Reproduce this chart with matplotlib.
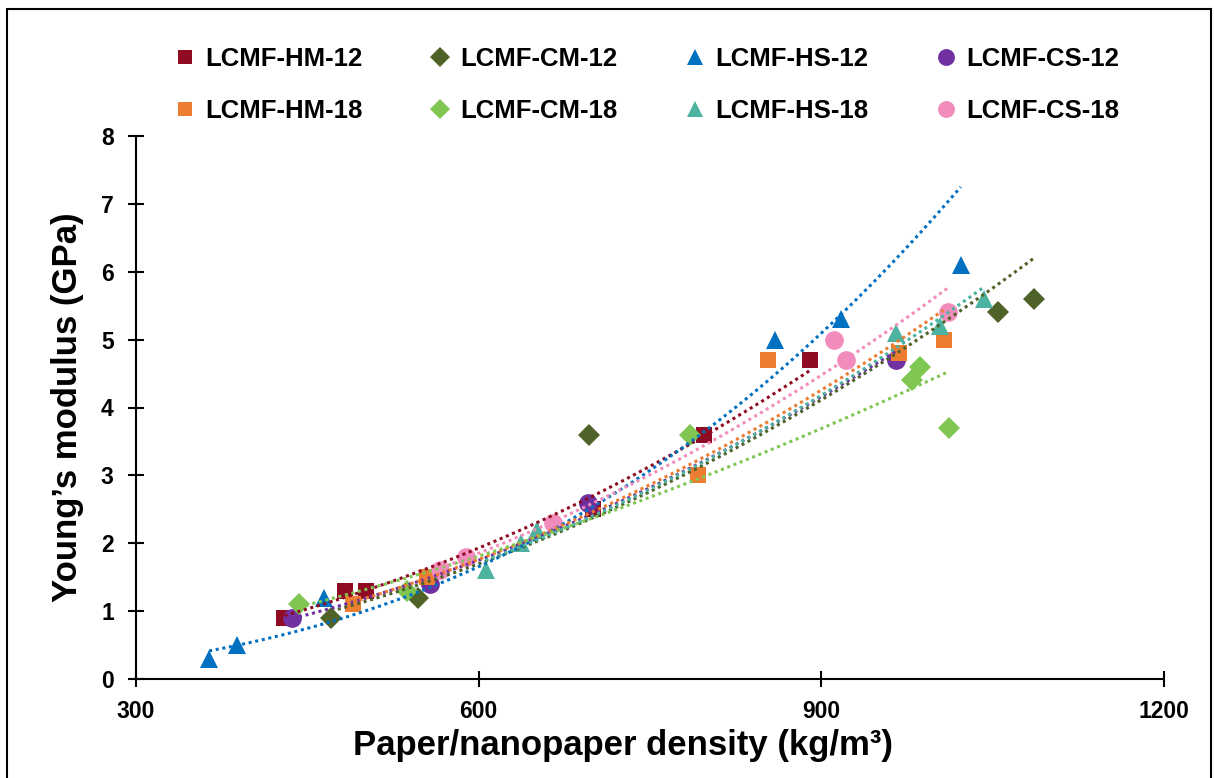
import numpy as np
import matplotlib
matplotlib.use("Agg")
import matplotlib.pyplot as plt
from matplotlib.patches import Rectangle

plt.rcParams['font.family'] = ['Liberation Sans', 'DejaVu Sans']
plt.rcParams['font.weight'] = 'bold'

# ---- data ----
labels = ["LCMF-HM-12", "LCMF-CM-12", "LCMF-HS-12", "LCMF-CS-12",
          "LCMF-HM-18", "LCMF-CM-18", "LCMF-HS-18", "LCMF-CS-18"]

hm12_x = [430, 483, 501, 700, 797, 890]
hm12_y = [0.9, 1.3, 1.3, 2.5, 3.6, 4.7]
cm12_x = [471, 547, 697, 1055, 1086]
cm12_y = [0.9, 1.2, 3.6, 5.4, 5.6]
hs12_x = [364, 388, 465, 859, 917, 1022]
hs12_y = [0.3, 0.5, 1.2, 5.0, 5.3, 6.1]
cs12_x = [437, 557, 696, 965]
cs12_y = [0.9, 1.4, 2.6, 4.7]
hm18_x = [490, 555, 792, 853, 968, 1007]
hm18_y = [1.1, 1.5, 3.0, 4.7, 4.8, 5.0]
cm18_x = [443, 537, 785, 979, 986, 1012]
cm18_y = [1.1, 1.3, 3.6, 4.4, 4.6, 3.7]
hs18_x = [606, 637, 651, 965, 1004, 1042]
hs18_y = [1.6, 2.0, 2.2, 5.1, 5.2, 5.6]
cs18_x = [566, 589, 665, 911, 922, 1011]
cs18_y = [1.6, 1.8, 2.3, 5.0, 4.7, 5.4]

x_ticks = [300, 600, 900, 1200]
y_ticks = [0, 1, 2, 3, 4, 5, 6, 7, 8]

series = [
    (hm12_x, hm12_y, labels[0], "#8E0B23", "s", 11.5),
    (cm12_x, cm12_y, labels[1], "#4F6228", "D", 11),
    (hs12_x, hs12_y, labels[2], "#0070C0", "^", 12.5),
    (cs12_x, cs12_y, labels[3], "#7030A0", "o", 13.5),
    (hm18_x, hm18_y, labels[4], "#ED7D31", "s", 11.5),
    (cm18_x, cm18_y, labels[5], "#80C652", "D", 11),
    (hs18_x, hs18_y, labels[6], "#4BB3A0", "^", 12.5),
    (cs18_x, cs18_y, labels[7], "#F28CBC", "o", 13.5),
]

fig = plt.figure(figsize=(12.14, 7.78), dpi=100)
ax = fig.add_axes([136/1214, 1-679/778, (1164-136)/1214, (679-136)/778])

handles = {}
for xs, ys, lab, col, mk, ms in series:
    xs = np.asarray(xs, float); ys = np.asarray(ys, float)
    h, = ax.plot(xs, ys, linestyle='none', marker=mk, markersize=ms,
                 color=col, markeredgewidth=0, zorder=3, label=lab)
    handles[lab] = h
    # power trendline (Excel style)
    b, a = np.polyfit(np.log(xs), np.log(ys), 1)
    xf = np.linspace(xs.min(), xs.max(), 200)
    ax.plot(xf, np.exp(a) * xf ** b, linestyle=(0, (1, 1.2)), lw=2.2,
            color=col, zorder=4)

ax.set_xlim(300, 1200)
ax.set_ylim(0, 8)
ax.set_xticks(x_ticks)
ax.set_yticks(y_ticks)
for s in ['top', 'right']:
    ax.spines[s].set_visible(False)
for s in ['left', 'bottom']:
    ax.spines[s].set_linewidth(1.5)
ax.tick_params(axis='both', direction='inout', length=12, width=1.5,
               labelsize=16.5)
ax.tick_params(axis='x', pad=9)
ax.tick_params(axis='y', pad=10)
for t in ax.get_xticklabels() + ax.get_yticklabels():
    t.set_fontweight('bold')

ax.set_xlabel("Paper/nanopaper density (kg/m³)", fontsize=25,
              fontweight='bold')
ax.xaxis.set_label_coords((623 - 136) / 1028, -(745 - 679) / 543)
ax.xaxis.label.set_va('center')
ax.set_ylabel("Young\u2019s modulus (GPa)", fontsize=25,
              fontweight='bold', labelpad=12)

order = [labels[0], labels[4], labels[1], labels[5],
         labels[2], labels[6], labels[3], labels[7]]
leg = fig.legend([handles[l] for l in order], order, ncol=4,
                 loc='center', bbox_to_anchor=(647/1214, 1 - 85/778),
                 frameon=False, markerscale=0.9,
                 handlelength=0.8, handletextpad=0.4, columnspacing=2.6,
                 labelspacing=1.1, prop={'weight': 'bold', 'size': 18.5})

fig.patches.append(Rectangle((7/1214, -0.02), (1211-7)/1214, 1.02 - 9/778,
                             transform=fig.transFigure, fill=False,
                             edgecolor='black', lw=1.5))

fig.savefig("out.png", dpi=100)
